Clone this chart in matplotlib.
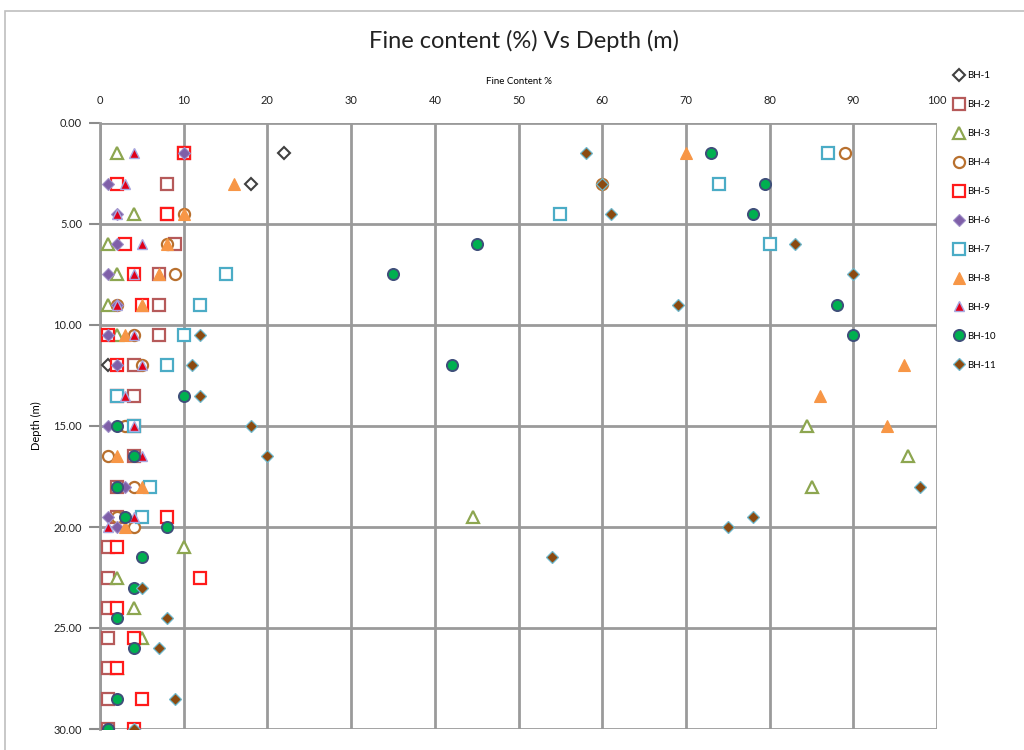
import matplotlib
matplotlib.use("Agg")
import matplotlib.pyplot as plt
from matplotlib.patches import Rectangle

plt.rcParams["font.family"] = ["Lato", "DejaVu Sans"]

# fine content (%) and depth (m) for each borehole
bh1_fc = [22, 18, 1]
bh1_d = [1.5, 3, 12]

bh2_fc = [10, 8, 8, 9, 7, 7, 7, 4, 4, 4, 4, 2, 2, 1, 1, 1, 1, 1, 1, 1]
bh2_d = [1.5, 3, 4.5, 6, 7.5, 9, 10.5, 12, 13.5, 15, 16.5, 18, 19.5, 21, 22.5, 24, 25.5, 27, 28.5, 30]

bh3_fc = [2, 4, 1, 2, 1, 2, 84.5, 96.5, 85, 44.5, 10, 2, 4, 5, 2]
bh3_d = [1.5, 4.5, 6, 7.5, 9, 10.5, 15, 16.5, 18, 19.5, 21, 22.5, 24, 25.5, 27]

bh4_fc = [89, 60, 10, 8, 9, 2, 4, 5, 3, 1, 4, 2, 4]
bh4_d = [1.5, 3, 4.5, 6, 7.5, 9, 10.5, 12, 15, 16.5, 18, 19.5, 20]

bh5_fc = [10, 2, 8, 3, 4, 5, 1, 2, 2, 8, 2, 12, 2, 4, 2, 5, 4]
bh5_d = [1.5, 3, 4.5, 6, 7.5, 9, 10.5, 12, 13.5, 19.5, 21, 22.5, 24, 25.5, 27, 28.5, 30]

bh6_fc = [10, 1, 2, 2, 1, 2, 1, 2, 2, 1, 3, 1, 2]
bh6_d = [1.5, 3, 4.5, 6, 7.5, 9, 10.5, 12, 13.5, 15, 18, 19.5, 20]

bh7_fc = [87, 74, 55, 80, 15, 12, 10, 8, 2, 4, 6, 5]
bh7_d = [1.5, 3, 4.5, 6, 7.5, 9, 10.5, 12, 13.5, 15, 18, 19.5]

bh8_fc = [70, 16, 10, 8, 7, 5, 3, 96, 86, 94, 2, 5, 3]
bh8_d = [1.5, 3, 4.5, 6, 7.5, 9, 10.5, 12, 13.5, 15, 16.5, 18, 20]

bh9_fc = [4, 3, 2, 5, 4, 2, 4, 5, 3, 4, 5, 4, 1]
bh9_d = [1.5, 3, 4.5, 6, 7.5, 9, 10.5, 12, 13.5, 15, 16.5, 19.5, 20]

bh10_fc = [73, 79.5, 78, 45, 35, 88, 90, 42, 10, 2, 4, 2, 3, 8, 5, 4, 2, 4, 2, 1]
bh10_d = [1.5, 3, 4.5, 6, 7.5, 9, 10.5, 12, 13.5, 15, 16.5, 18, 19.5, 20, 21.5, 23, 24.5, 26, 28.5, 30]

bh11_fc = [58, 60, 61, 83, 90, 69, 12, 11, 12, 18, 20, 98, 78, 75, 54, 5, 8, 7, 9, 4]
bh11_d = [1.5, 3, 4.5, 6, 7.5, 9, 10.5, 12, 13.5, 15, 16.5, 18, 19.5, 20, 21.5, 23, 24.5, 26, 28.5, 30]

labels = ["BH-1", "BH-2", "BH-3", "BH-4", "BH-5", "BH-6",
          "BH-7", "BH-8", "BH-9", "BH-10", "BH-11"]

series = [
    (bh1_fc, bh1_d, dict(marker="D", ms=6, mfc="white", mec="#404040", mew=1.5)),
    (bh2_fc, bh2_d, dict(marker="s", ms=8, mfc="white", mec="#B65A5A", mew=1.6)),
    (bh3_fc, bh3_d, dict(marker="^", ms=8, mfc="white", mec="#8DA650", mew=1.6)),
    (bh4_fc, bh4_d, dict(marker="o", ms=8, mfc="white", mec="#B8702E", mew=1.6)),
    (bh5_fc, bh5_d, dict(marker="s", ms=8, mfc="white", mec="#FF1A1A", mew=1.6)),
    (bh6_fc, bh6_d, dict(marker="D", ms=6, mfc="#7F5FA8", mec="#9F8FC8", mew=0.8)),
    (bh7_fc, bh7_d, dict(marker="s", ms=8, mfc="white", mec="#4BACC6", mew=1.6)),
    (bh8_fc, bh8_d, dict(marker="^", ms=9, mfc="#F79646", mec="#F79646", mew=0.8)),
    (bh9_fc, bh9_d, dict(marker="^", ms=6.5, mfc="#E0001A", mec="#A8A8E0", mew=1.0)),
    (bh10_fc, bh10_d, dict(marker="o", ms=8, mfc="#00B050", mec="#3F4F7A", mew=1.4)),
    (bh11_fc, bh11_d, dict(marker="D", ms=6.5, mfc="#8B4A10", mec="#6FB8CC", mew=0.9)),
]

fig = plt.figure(figsize=(10.24, 7.5), dpi=100)
ax = fig.add_axes([0.0977, 0.028, 0.8174, 0.808])

for (fc, d, style), lab in zip(series, labels):
    ax.plot(fc, d, linestyle="none", label=lab, zorder=3, **style)

ax.set_xlim(0, 100)
ax.set_ylim(30, 0)
ax.set_xticks(range(0, 101, 10))
ax.set_yticks(range(0, 31, 5))
ax.set_yticklabels([f"{v:.2f}" for v in range(0, 31, 5)])
ax.xaxis.tick_top()
ax.xaxis.set_label_position("top")
ax.tick_params(axis="x", length=0, labelsize=8, pad=12, colors="#222222")
ax.tick_params(axis="y", length=8, width=1.5, color="#8C8C8C", labelsize=8,
               pad=5, labelcolor="#222222")
ax.grid(True, color="#9A9A9A", linewidth=2)
ax.set_axisbelow(True)
for side in ["top", "right", "bottom"]:
    ax.spines[side].set_visible(False)
ax.spines["left"].set_color("#9A9A9A")
ax.spines["left"].set_linewidth(2)

ax.set_xlabel("Fine Content %", fontsize=7, labelpad=8)
ax.set_ylabel("Depth (m)", fontsize=8, labelpad=8)

fig.text(0.512, 0.945, "Fine content (%) Vs Depth (m)", ha="center", va="center",
         fontsize=17, color="#222222")

fig.legend(loc="upper left", bbox_to_anchor=(0.928, 0.91), frameon=False,
           fontsize=7, labelspacing=2.05, handletextpad=0.3, handlelength=1.0,
           borderaxespad=0)

# chart frame
fig.add_artist(Rectangle((0.005, -0.01), 1.0, 0.995, transform=fig.transFigure,
                         fill=False, edgecolor="#BFBFBF", linewidth=1.2))

fig.savefig("out.png", dpi=100)
